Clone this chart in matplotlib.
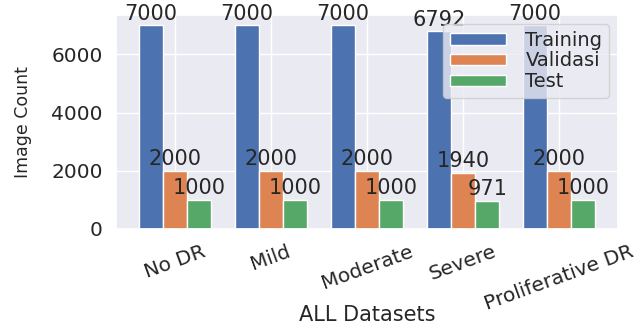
import numpy as np
import matplotlib
matplotlib.use("Agg")
import matplotlib.pyplot as plt
import seaborn as sns

sns.set_theme()
plt.rcParams['font.family'] = ['DejaVu Sans']

categories = ["No DR", "Mild", "Moderate", "Severe", "Proliferative DR"]
training = [7000, 7000, 7000, 6792, 7000]
validasi = [2000, 2000, 2000, 1940, 2000]
test = [1000, 1000, 1000, 971, 1000]

fig = plt.figure(figsize=(6.4, 3.29), dpi=100)
ax = fig.add_axes([116 / 640, 1 - 229 / 329, (618 - 116) / 640, (229 - 15) / 329])

x = np.arange(len(categories))
w = 0.25
b1 = ax.bar(x - w, training, w, label="Training")
b2 = ax.bar(x, validasi, w, label="Validasi")
b3 = ax.bar(x + w, test, w, label="Test")

for bars in (b1, b2, b3):
    ax.bar_label(bars, fontsize=15, color="#262626", padding=1)

ax.set_xticks(x)
ax.set_xticklabels(categories, rotation=20, fontsize=14.5)
ax.tick_params(axis="y", labelsize=14.5)
ax.set_yticks([0, 2000, 4000, 6000])
ax.set_xlabel("ALL Datasets", fontsize=15)
ax.xaxis.set_label_coords(0.5, -0.40)
ax.xaxis.label.set_verticalalignment("center")
ax.set_ylabel("Image Count", fontsize=12.5)
ax.yaxis.set_label_coords(-0.185, 0.5)
ax.yaxis.label.set_verticalalignment("center")
ax.legend(loc="upper right", fontsize=14, labelspacing=0.1, borderpad=0.35,
          handlelength=2.9, handleheight=0.55, handletextpad=1.0,
          borderaxespad=0.45)

fig.savefig("out.png", dpi=100)
